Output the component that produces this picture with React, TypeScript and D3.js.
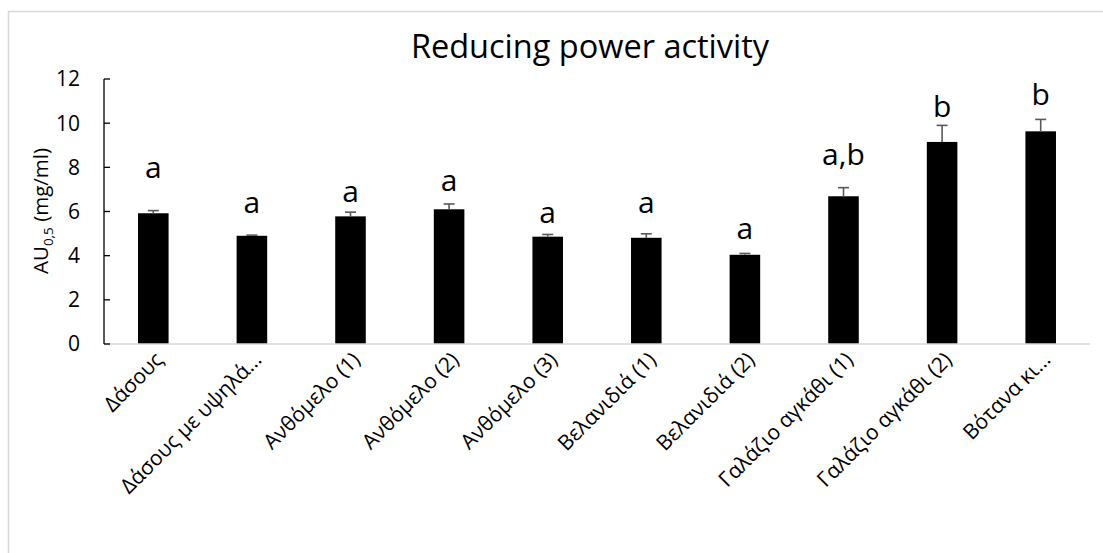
import React from "react";
import * as d3 from "d3";

const categories = [
  "Δάσους",
  "Δάσους με υψηλά…",
  "Ανθόμελο (1)",
  "Ανθόμελο (2)",
  "Ανθόμελο (3)",
  "Βελανιδιά (1)",
  "Βελανιδιά (2)",
  "Γαλάζιο αγκάθι (1)",
  "Γαλάζιο αγκάθι (2)",
  "Βότανα κι…",
];
const values = [5.92, 4.9, 5.78, 6.1, 4.86, 4.81, 4.04, 6.69, 9.15, 9.63];
const errors = [0.12, 0.03, 0.19, 0.24, 0.1, 0.18, 0.06, 0.39, 0.75, 0.54];
const letters = ["a", "a", "a", "a", "a", "a", "a", "a,b", "b", "b"];
const letterLevels = [7.52, 5.93, 6.45, 6.93, 5.49, 5.93, 4.75, 8.1, 10.29, 10.82];
const yTicks = [0, 2, 4, 6, 8, 10, 12];

const W = 1103;
const H = 553;
const FONT = "'Open Sans', 'Noto Sans', sans-serif";

export default function App() {
  const left = 104;
  const right = 1090;
  const top = 79;
  const bottom = 344;
  const x = d3.scaleBand<string>().domain(categories).range([left, right]).padding(0);
  const y = d3.scaleLinear().domain([0, 12]).range([bottom, top]);
  const barW = x.bandwidth() * 0.31;
  const capW = 11;

  return (
    <svg
      width={W}
      height={H}
      style={{ position: "absolute", left: 0, top: 0, background: "#fff" }}
      fontFamily={FONT}
    >
      <rect x={8.5} y={11.5} width={1300} height={700} fill="#fff" stroke="#d9d9d9" strokeWidth={1.5} />
      <text x={590} y={58} textAnchor="middle" fontSize={32.5} fill="#000">
        Reducing power activity
      </text>

      {/* bars */}
      {categories.map((c, i) => {
        const cx = (x(c) as number) + x.bandwidth() / 2;
        return (
          <rect key={"b" + i} x={cx - barW / 2} y={y(values[i])} width={barW} height={y(0) - y(values[i])} fill="#000" />
        );
      })}

      {/* error bars */}
      {categories.map((c, i) => {
        const cx = (x(c) as number) + x.bandwidth() / 2;
        const y1 = y(values[i]);
        const y2 = y(values[i] + errors[i]);
        return (
          <g key={"e" + i} stroke="#595959" strokeWidth={1.6}>
            <line x1={cx} x2={cx} y1={y1} y2={y2} />
            <line x1={cx - capW / 2} x2={cx + capW / 2} y1={y2} y2={y2} />
          </g>
        );
      })}

      {/* letters */}
      {categories.map((c, i) => {
        const cx = (x(c) as number) + x.bandwidth() / 2;
        return (
          <text key={"l" + i} x={cx} y={y(letterLevels[i])} textAnchor="middle" fontSize={30} fill="#000">
            {letters[i]}
          </text>
        );
      })}

      {/* x axis */}
      <line x1={left} x2={right} y1={bottom} y2={bottom} stroke="#d9d9d9" strokeWidth={1.5} />
      {/* y axis */}
      <line x1={left} x2={left} y1={top} y2={bottom} stroke="#000" strokeWidth={1.3} />
      {yTicks.map((t) => (
        <g key={"t" + t}>
          <line x1={left} x2={left + 6} y1={y(t)} y2={y(t)} stroke="#000" strokeWidth={1.3} />
          <text x={80} y={y(t)} dy="0.35em" textAnchor="end" fontSize={21} fill="#000">
            {t}
          </text>
        </g>
      ))}

      {/* x labels */}
      {categories.map((c, i) => {
        const cx = (x(c) as number) + x.bandwidth() / 2;
        const ax = cx + 11;
        const ay = 361;
        return (
          <text
            key={"x" + i}
            x={ax}
            y={ay}
            textAnchor="end"
            fontSize={21}
            fill="#000"
            transform={`rotate(-45 ${ax} ${ay})`}
          >
            {c}
          </text>
        );
      })}

      {/* y label */}
      <text transform="translate(48,211) rotate(-90)" textAnchor="middle" fontSize={20.5} fill="#000">
        AU
        <tspan fontSize={13.5} dy={5}>0,5</tspan>
        <tspan dy={-5}> (mg/ml)</tspan>
      </text>
    </svg>
  );
}
